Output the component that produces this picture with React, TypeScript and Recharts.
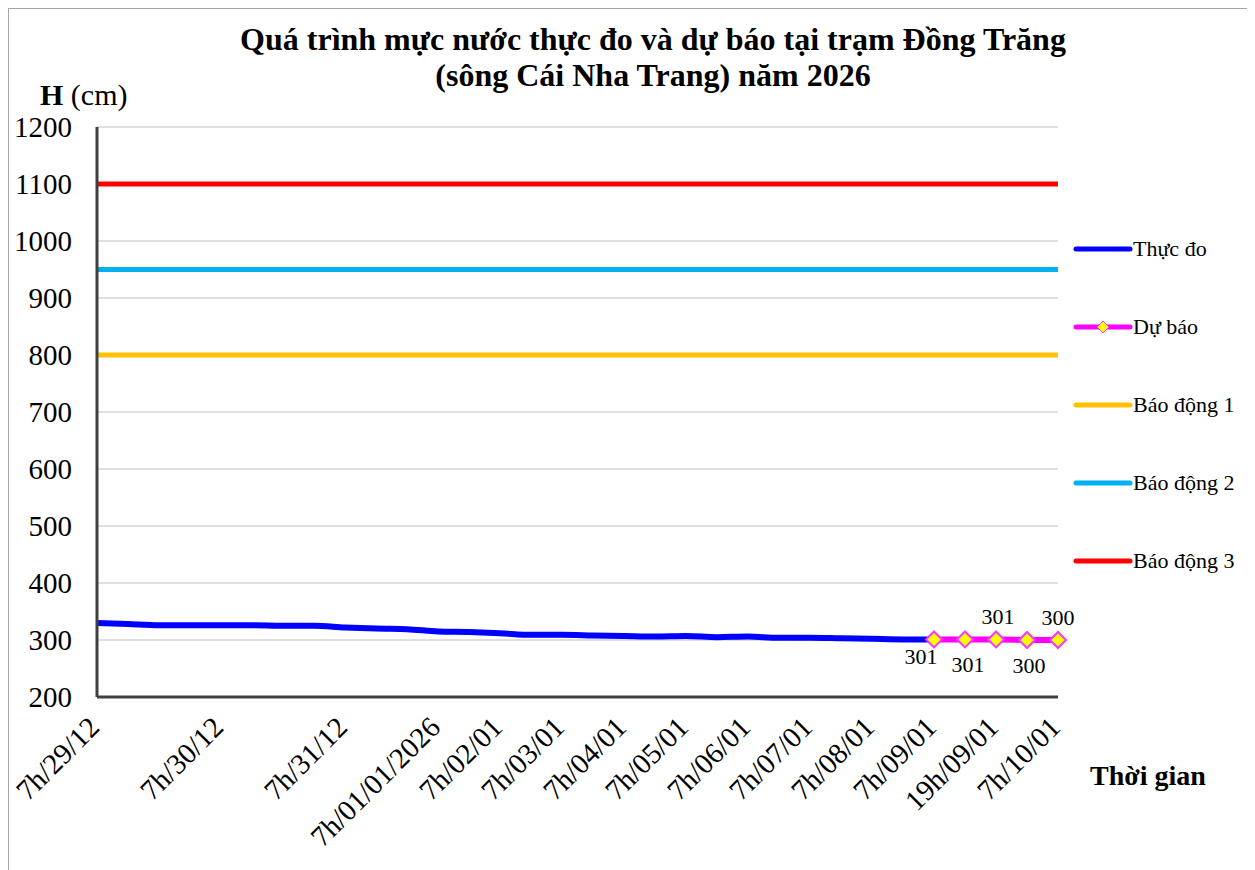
import {
  CartesianGrid,
  LabelList,
  Line,
  LineChart,
  ReferenceLine,
  XAxis,
  YAxis
} from "recharts";

const categories = [
  "7h/29/12", "", "", "", "7h/30/12", "", "", "", "7h/31/12", "", "",
  "7h/01/01/2026", "", "7h/02/01", "", "7h/03/01", "", "7h/04/01", "",
  "7h/05/01", "", "7h/06/01", "", "7h/07/01", "", "7h/08/01", "",
  "7h/09/01", "", "19h/09/01", "", "7h/10/01"
];

const observed = [
  330, 328, 326, 326, 326, 326, 325, 325, 322, 320, 319, 315, 314, 312,
  309, 309, 308, 307, 306, 307, 305, 306, 304, 304, 303, 302, 301, 301
];

const forecastStart = 27;
const forecast = [301, 301, 301, 300, 300];

const yTicks = [200, 300, 400, 500, 600, 700, 800, 900, 1000, 1100, 1200];

const alarm1 = 800;
const alarm2 = 950;
const alarm3 = 1100;

const legendItems = [
  { name: "Thực đo", color: "#0000FF", marker: false },
  { name: "Dự báo", color: "#FF00FF", marker: true },
  { name: "Báo động 1", color: "#FFC000", marker: false },
  { name: "Báo động 2", color: "#00B0F0", marker: false },
  { name: "Báo động 3", color: "#FF0000", marker: false }
];

const data = categories.map((label, i) => ({
  i,
  label,
  observed: i < observed.length ? observed[i] : null,
  forecast: i >= forecastStart ? forecast[i - forecastStart] : null
}));

const serif = "'Liberation Serif', 'Times New Roman', serif";

// where each forecast value label sits relative to its point
const labelOffsets = [
  { dx: -13, dy: 25 },
  { dx: 3, dy: 33 },
  { dx: 2, dy: -15 },
  { dx: 2, dy: 33 },
  { dx: 0, dy: -15 }
];

function XTick(props: any) {
  const { x, y, payload } = props;
  const label = categories[payload.value];
  if (!label) return null;
  const ax = x + 4;
  const ay = y + 30;
  return (
    <text
      x={ax}
      y={ay}
      transform={`rotate(-45 ${ax} ${ay})`}
      textAnchor="end"
      fontSize={29}
      fontFamily={serif}
      style={{ fontFamily: serif }}
      fill="#000"
    >
      {label}
    </text>
  );
}

function YTick(props: any) {
  const { x, y, payload } = props;
  return (
    <text
      x={x}
      y={y}
      dy="0.35em"
      textAnchor="end"
      fontSize={29}
      fontFamily={serif}
      style={{ fontFamily: serif }}
      fill="#000"
    >
      {payload.value}
    </text>
  );
}

function Diamond(props: any) {
  const { cx, cy, value } = props;
  if (value == null || cx == null) return null;
  const r = 8;
  return (
    <polygon
      points={`${cx},${cy - r} ${cx + r},${cy} ${cx},${cy + r} ${cx - r},${cy}`}
      fill="#FFFF00"
      stroke="#FF33FF"
      strokeWidth={2}
    />
  );
}

function ForecastLabel(props: any) {
  const { x, y, value, index } = props;
  if (value == null) return null;
  const off = labelOffsets[index - forecastStart];
  if (!off) return null;
  return (
    <text
      x={x + off.dx}
      y={y + off.dy}
      textAnchor="middle"
      fontSize={22}
      fontFamily={serif}
      style={{ fontFamily: serif }}
      fill="#000"
    >
      {value}
    </text>
  );
}

function LegendBox() {
  return (
    <div style={{ position: "absolute", left: 1064, top: 227 }}>
      {legendItems.map((item) => (
        <div
          key={item.name}
          style={{
            height: 78,
            display: "flex",
            alignItems: "flex-start",
            fontFamily: serif,
            fontSize: 22
          }}
        >
          <svg width={60} height={26}>
            <line
              x1={3}
              y1={13}
              x2={57}
              y2={13}
              stroke={item.color}
              strokeWidth={5}
              strokeLinecap="round"
            />
            {item.marker && (
              <polygon
                points="30,7 36,13 30,19 24,13"
                fill="#FFFF00"
                stroke="#FF33FF"
                strokeWidth={1}
              />
            )}
          </svg>
          <span style={{ lineHeight: "26px" }}>{item.name}</span>
        </div>
      ))}
    </div>
  );
}

export default function App() {
  return (
    <div
      style={{
        position: "relative",
        width: 1240,
        height: 870,
        border: "1px solid #a6a6a6",
        boxSizing: "border-box",
        background: "#fff",
        fontFamily: serif
      }}
    >
      <div
        style={{
          position: "absolute",
          left: 144,
          top: 12,
          width: 1000,
          textAlign: "center",
          fontWeight: "bold",
          fontSize: 32,
          lineHeight: "36px"
        }}
      >
        Quá trình mực nước thực đo và dự báo tại trạm Đồng Trăng
        <br />
        (sông Cái Nha Trang) năm 2026
      </div>
      <div
        style={{
          position: "absolute",
          left: 31,
          top: 72,
          fontSize: 30,
          lineHeight: "28px"
        }}
      >
        <b>H</b> (cm)
      </div>
      <div
        style={{
          position: "absolute",
          left: 1081,
          top: 750,
          fontSize: 28,
          fontWeight: "bold",
          lineHeight: "34px"
        }}
      >
        Thời gian
      </div>
      <LegendBox />
      <LineChart
        width={1238}
        height={860}
        data={data}
        margin={{ top: 118, right: 189, left: 0, bottom: 0 }}
      >
        <CartesianGrid stroke="#bfbfbf" vertical={false} />
        <XAxis
          dataKey="i"
          type="category"
          interval={0}
          height={172}
          tick={<XTick />}
          tickLine={false}
          tickSize={0}
          axisLine={{ stroke: "#404040", strokeWidth: 3 }}
        />
        <XAxis
          xAxisId="top"
          dataKey="i"
          orientation="top"
          height={0}
          tick={false}
          tickLine={false}
          axisLine={{ stroke: "#000", strokeWidth: 2 }}
        />
        <YAxis
          domain={[200, 1200]}
          ticks={yTicks}
          width={88}
          interval={0}
          tickLine={false}
          tickSize={0}
          tickMargin={25}
          tick={<YTick />}
          axisLine={{ stroke: "#404040", strokeWidth: 3 }}
        />
        <YAxis
          yAxisId="right"
          orientation="right"
          domain={[200, 1200]}
          width={0}
          tick={false}
          tickLine={false}
          axisLine={{ stroke: "#000", strokeWidth: 2 }}
        />
        <ReferenceLine y={alarm1} stroke="#FFC000" strokeWidth={5} />
        <ReferenceLine y={alarm2} stroke="#00B0F0" strokeWidth={5} />
        <ReferenceLine y={alarm3} stroke="#FF0000" strokeWidth={5} />
        <Line
          dataKey="observed"
          type="monotone"
          stroke="#0000FF"
          strokeWidth={6}
          dot={false}
          activeDot={false}
          isAnimationActive={false}
        />
        <Line
          dataKey="forecast"
          type="linear"
          stroke="#FF00FF"
          strokeWidth={6}
          dot={<Diamond />}
          activeDot={false}
          isAnimationActive={false}
        >
          <LabelList dataKey="forecast" content={<ForecastLabel />} />
        </Line>
      </LineChart>
    </div>
  );
}
